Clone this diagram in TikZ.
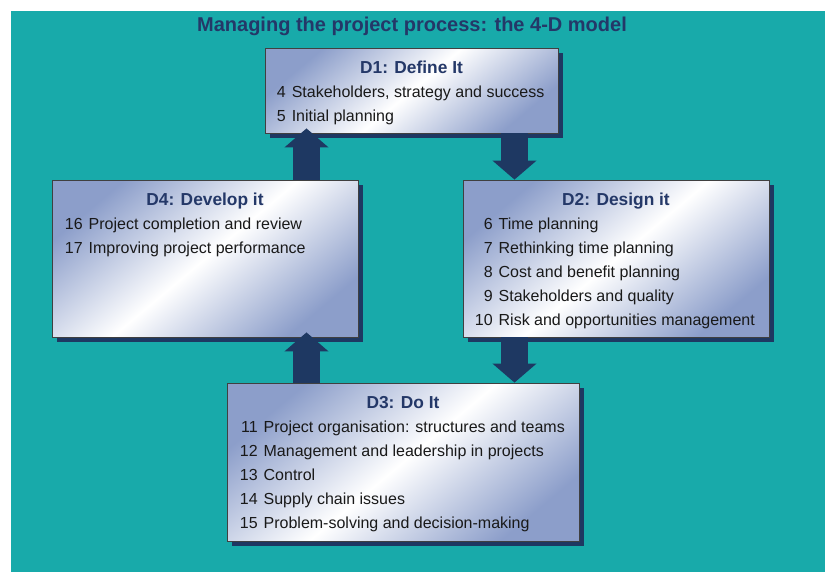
\documentclass[tikz,border=0pt]{standalone}
\usepackage{fontspec}
\setmainfont{Liberation Sans}
\usetikzlibrary{positioning}
\usetikzlibrary{fit}
\usetikzlibrary{shadows}
\usetikzlibrary{arrows.meta}
\definecolor{tealbg}{RGB}{24,170,170}
\definecolor{navy}{RGB}{30,56,98}
\definecolor{boxblue}{RGB}{140,158,202}
\definecolor{headblue}{RGB}{36,56,104}
\tikzset{dbox/.style={ % Sets the properties for each phase box
draw=black!75, line width=0.6pt, inner sep=0pt,
top color=boxblue, bottom color=boxblue, middle color=white,
shading angle=40,
drop shadow={shadow xshift=3.75pt, shadow yshift=-3.75pt, fill=navy, opacity=1}},
dhead/.style={anchor=base, text=headblue, font=\fontsize{13}{16}\selectfont\bfseries},
ditems/.style={anchor=base west, inner sep=0pt, text=black!90,
font=\fontsize{12}{18}\selectfont},
bigarrow/.style={ % Thick arrows between the phases
draw=navy, line width=20.25pt,
-{Triangle[width=32.25pt, length=14.25pt]}},
upto/.style={bigarrow, shorten >=-3.75pt}}

\begin{document}
\begin{tikzpicture}[x=0.75pt, y=-0.75pt]
\useasboundingbox (0,0) rectangle (825,572);
\fill[white] (0,0) rectangle (825,572);
\fill[tealbg] (11,11) rectangle (825,572);
\node[dhead, font=\fontsize{15}{18}\selectfont\bfseries] (title) at (412,31.5)
{Managing the project process: the 4-D model};
\coordinate (upx) at (306.5,0);
\coordinate (downx) at (514.5,0);
% phase boxes
\node[dbox, fit={(265,48) (558,133)}] (d1) {};
\node[dbox, fit={(463,180) (769,337)}] (d2) {};
\node[dbox, fit={(227,383) (579,541)}] (d3) {};
\node[dbox, fit={(52,180) (358,337)}] (d4) {};
% arrows
\draw[bigarrow] (d1.south -| downx) -- (d2.north -| downx);
\draw[bigarrow] (d2.south -| downx) -- (d3.north -| downx);
\draw[upto] (d3.north -| upx) -- (d4.south -| upx);
\draw[upto] (d4.north -| upx) -- (d1.south -| upx);
% texts
\node[dhead] (d1h) at ([shift={(0,26)}]d1.north) {D1: Define It};
\node[ditems] (d1i) at ([shift={(12,50)}]d1.north west) {\begin{tabular}[t]{@{}r@{\hspace{4.5pt}}l@{}}
4 & Stakeholders, strategy and success\\
5 & Initial planning
\end{tabular}};
\node[dhead] (d2h) at ([shift={(0,26)}]d2.north) {D2: Design it};
\node[ditems] (d2i) at ([shift={(12,50)}]d2.north west) {\begin{tabular}[t]{@{}r@{\hspace{4.5pt}}l@{}}
6 & Time planning\\
7 & Rethinking time planning\\
8 & Cost and benefit planning\\
9 & Stakeholders and quality\\
10 & Risk and opportunities management
\end{tabular}};
\node[dhead] (d3h) at ([shift={(0,26)}]d3.north) {D3: Do It};
\node[ditems] (d3i) at ([shift={(13,50)}]d3.north west) {\begin{tabular}[t]{@{}r@{\hspace{4.5pt}}l@{}}
11 & Project organisation: structures and teams\\
12 & Management and leadership in projects\\
13 & Control\\
14 & Supply chain issues\\
15 & Problem-solving and decision-making
\end{tabular}};
\node[dhead] (d4h) at ([shift={(0,26)}]d4.north) {D4: Develop it};
\node[ditems] (d4i) at ([shift={(13,50)}]d4.north west) {\begin{tabular}[t]{@{}r@{\hspace{4.5pt}}l@{}}
16 & Project completion and review\\
17 & Improving project performance
\end{tabular}};
\end{tikzpicture}
\end{document}
